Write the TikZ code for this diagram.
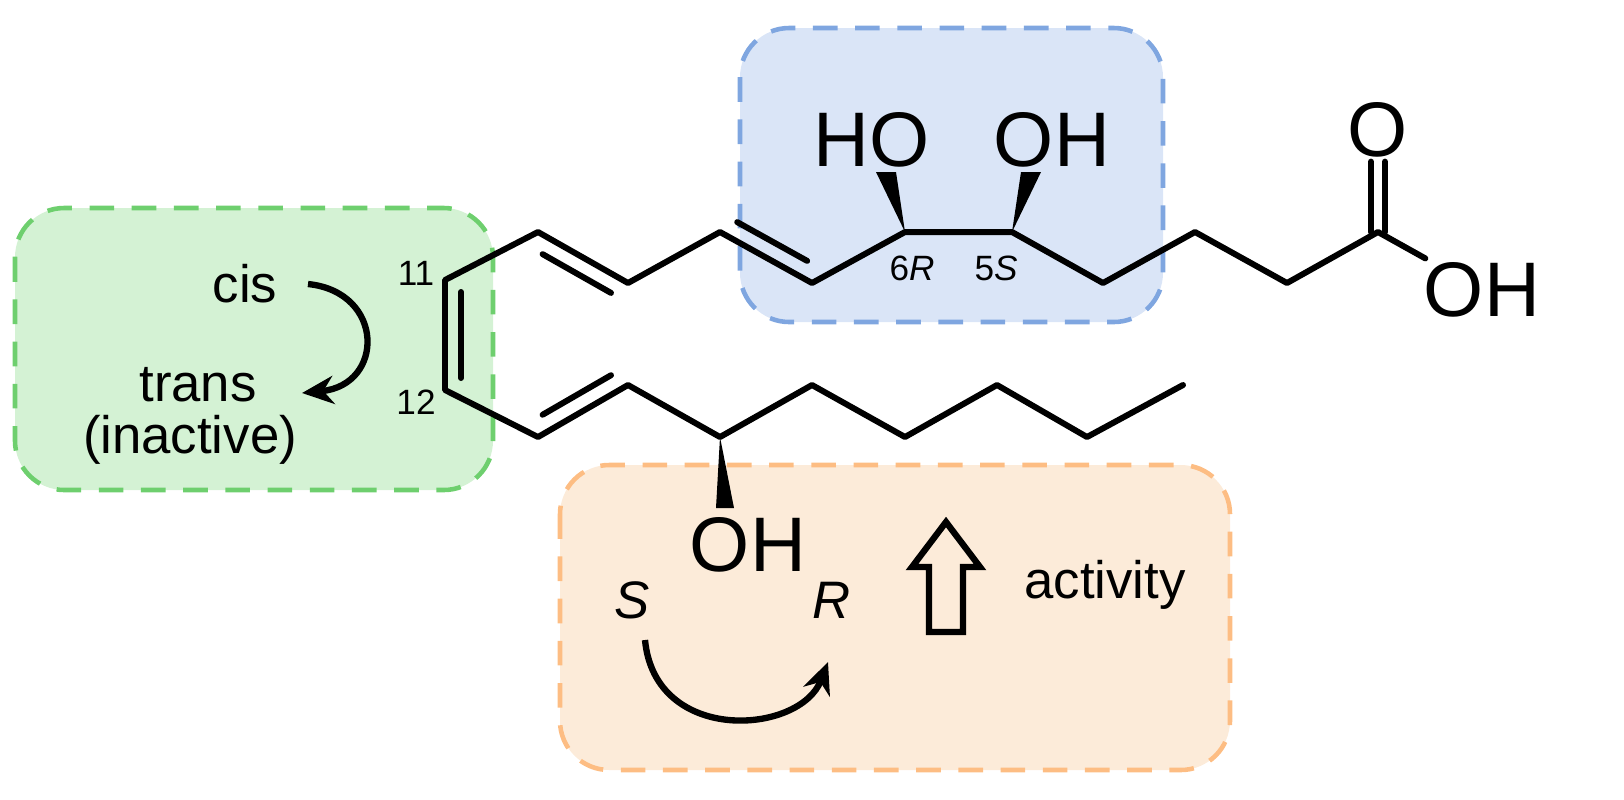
\documentclass[tikz,border=0pt]{standalone}
\usepackage{fontspec}
\setmainfont{Liberation Sans}
\usetikzlibrary{arrows.meta,calc}

\tikzset{
  bond/.style   = {line width=1.7pt, line cap=round, line join=round},
  region/.style = {dashed, line width=1.3pt, rounded corners=14pt, dash pattern=on 7pt off 5pt},
  atom/.style   = {inner sep=1pt, font=\fontsize{22}{22}\selectfont},
  num/.style    = {inner sep=0pt, font=\fontsize{10}{10}\selectfont},
  note/.style   = {inner sep=0pt, font=\fontsize{15}{15}\selectfont},
  swap/.style   = {line width=1.8pt, -{Stealth[length=9pt,width=8pt]}},
}
\definecolor{greenfill}{HTML}{D4F2D4}\definecolor{greenline}{HTML}{6ECF6E}
\definecolor{bluefill}{HTML}{DAE5F7}\definecolor{blueline}{HTML}{7FA6E0}
\definecolor{orangefill}{HTML}{FCEBD9}\definecolor{orangeline}{HTML}{FDBD83}

\begin{document}
\begin{tikzpicture}[x=0.01cm,y=-0.01cm]
  \useasboundingbox (0,0) rectangle (1624,799);

  % highlighted regions
  \draw[region,fill=greenfill,draw=greenline]   (15,208)  rectangle (493,490);
  \draw[region,fill=bluefill,draw=blueline]     (740,28)  rectangle (1163,322);
  \draw[region,fill=orangefill,draw=orangeline] (560,465) rectangle (1230,770);

  % carbon skeleton
  \coordinate (c1)  at (1378,232);
  \coordinate (c2)  at (1287,283);
  \coordinate (c3)  at (1195,232);
  \coordinate (c4)  at (1103,283);
  \coordinate (c5)  at (1012,232);
  \coordinate (c6)  at (905,232);
  \coordinate (c7)  at (812,283);
  \coordinate (c8)  at (720,232);
  \coordinate (c9)  at (628,283);
  \coordinate (c10) at (538,232);
  \coordinate (c11) at (445,280);
  \coordinate (c12) at (445,390);
  \coordinate (c13) at (538,437);
  \coordinate (c14) at (628,385);
  \coordinate (c15) at (720,437);
  \coordinate (c16) at (812,385);
  \coordinate (c17) at (905,437);
  \coordinate (c18) at (997,385);
  \coordinate (c19) at (1087,437);
  \coordinate (c20) at (1183,385);

  % hetero atoms
  \node[atom] (o1)  at (1378,130) {O};
  \node[atom] (oh1) at (1482,290) {OH};
  \node[atom] (ho6) at (872,140)  {HO};
  \node[atom] (oh5) at (1052,140) {OH};
  \node[atom] (oh15) at (748,545) {OH};

  \draw[bond] (oh1) -- (c1) -- (c2) -- (c3) -- (c4) -- (c5) -- (c6) -- (c7)
              -- (c8) -- (c9) -- (c10) -- (c11) -- (c12) -- (c13) -- (c14)
              -- (c15) -- (c16) -- (c17) -- (c18) -- (c19) -- (c20);
  % double bonds
  \draw[bond] ($(c1)+(-7,0)$) -- ($(o1.south)+(-7,0)$);
  \draw[bond] ($(c1)+(7,0)$) -- ($(o1.south)+(7,0)$);
  \draw[bond] (461,292) -- (461,378);
  \draw[bond] ($(c10)!0.14!(c9)+(-8,15)$) -- ($(c10)!0.9!(c9)+(-8,15)$);
  \draw[bond] ($(c8)!0.1!(c7)+(8,-15)$) -- ($(c8)!0.86!(c7)+(8,-15)$);
  \draw[bond] ($(c13)!0.14!(c14)+(-8,-15)$) -- ($(c13)!0.9!(c14)+(-8,-15)$);

  % wedges
  \fill (c6) -- (876,172) -- (896,172) -- cycle;
  \fill (c5) -- (1021,172) -- (1041,172) -- cycle;
  \fill (c15) -- (716,508) -- (734,508) -- cycle;

  % labels
  \node[num] (n11) at (416,273) {11};
  \node[num] (n12) at (416,402) {12};
  \node[num] (l6)  at (912,268) {6\textit{R}};
  \node[num] (l5)  at (996,268) {5\textit{S}};

  % green notes
  \node[note] (cis)   at (245,284) {cis};
  \node[note] (trans) at (198,385) {trans};
  \node[note] (inact) at (190,440) {(inactive)};
  \draw[swap] (308,284) .. controls (385,292) and (385,385) .. (302,393);

  % orange notes
  \node[note] (s)   at (632,600) {\textit{S}};
  \node[note] (r)   at (832,600) {\textit{R}};
  \node[note] (act) at (1105,585) {activity};
  \draw[swap] (645,640) .. controls (655,745) and (800,735) .. (828,662);
  \draw[line width=1.8pt, line join=miter]
    (929,632) -- (929,567) -- (912,567) -- (946,522) -- (980,567)
    -- (963,567) -- (963,632) -- cycle;
\end{tikzpicture}
\end{document}
